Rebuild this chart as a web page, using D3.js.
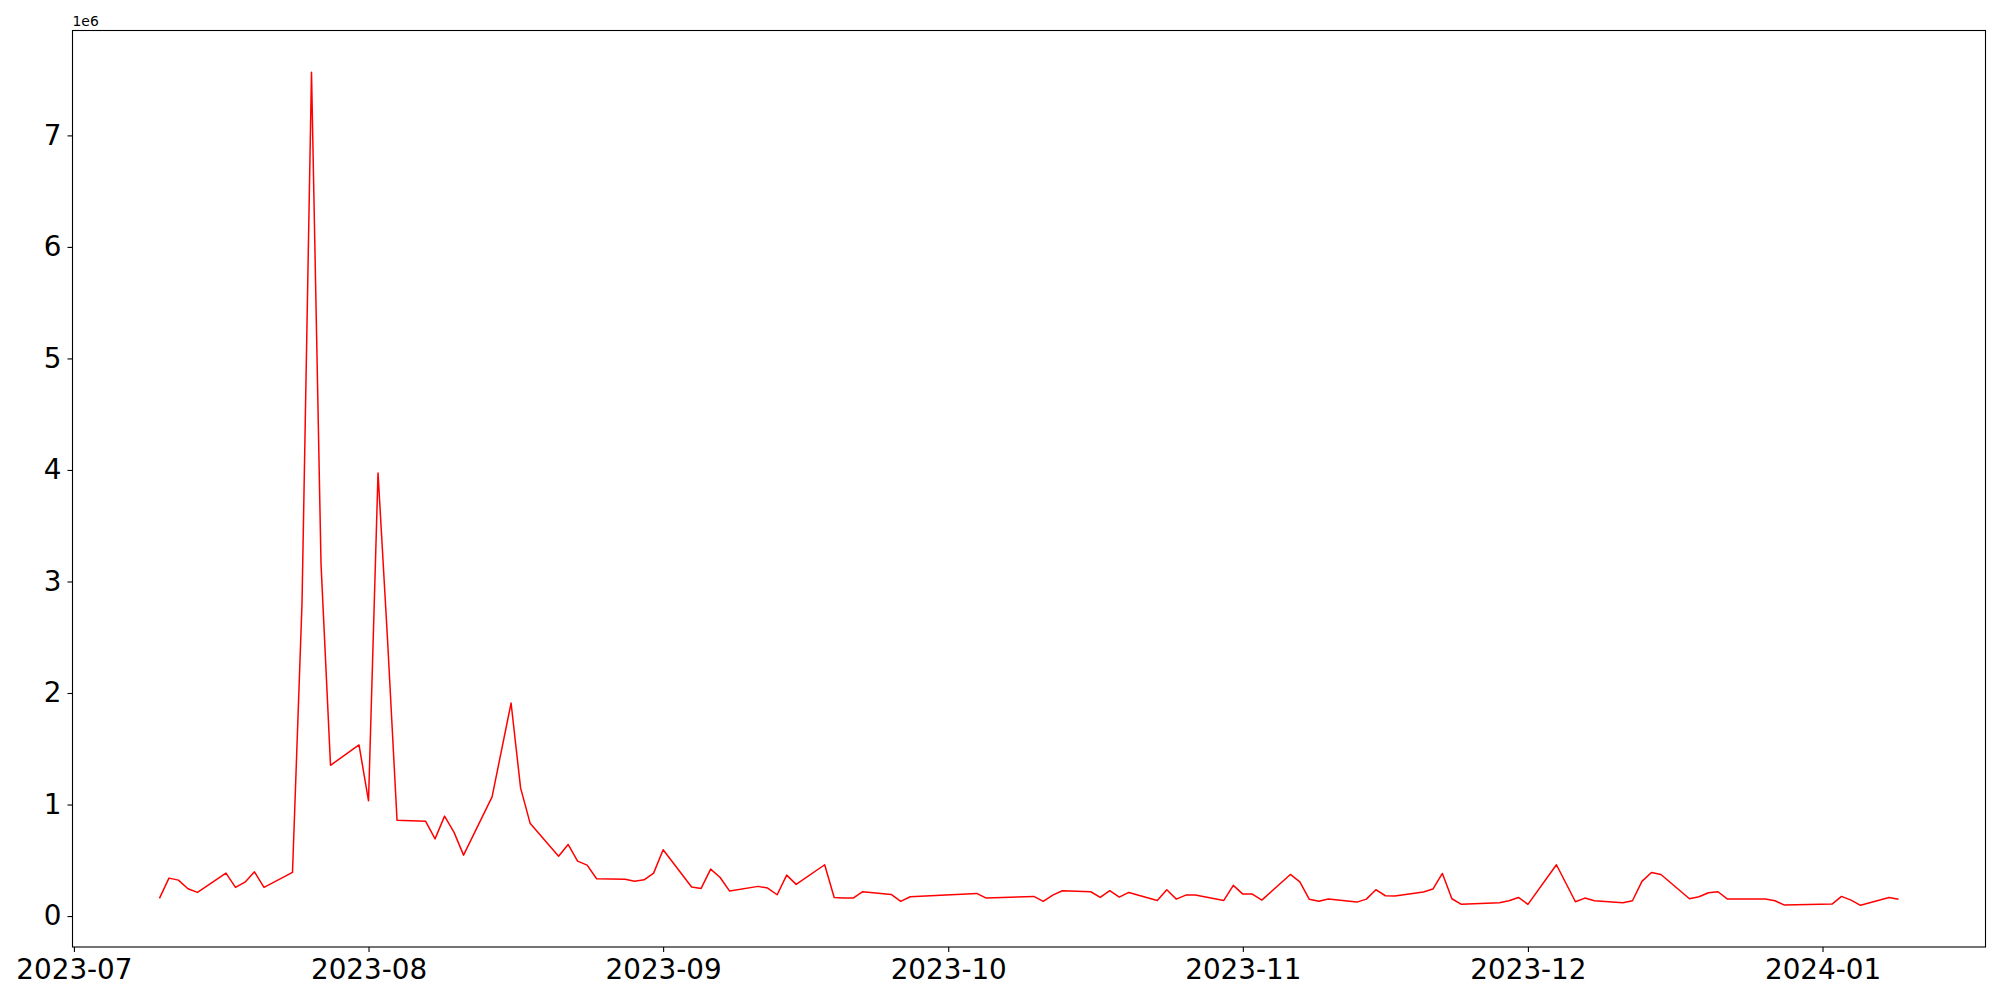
<!DOCTYPE html>
<html>
<head>
<meta charset="utf-8">
<script src="https://cdn.jsdelivr.net/npm/d3@7"></script>
<style>
  html, body { margin: 0; padding: 0; background: #fff; }
  svg { display: block; }
  text { font-family: "DejaVu Sans", sans-serif; fill: #000; }
</style>
</head>
<body>
<svg id="chart" width="2000" height="1000"></svg>
<script>
const dates = [
  "2023-07-10","2023-07-11","2023-07-12","2023-07-13","2023-07-14",
  "2023-07-17","2023-07-18","2023-07-19","2023-07-20","2023-07-21",
  "2023-07-24","2023-07-25","2023-07-26","2023-07-27","2023-07-28",
  "2023-07-31","2023-08-01","2023-08-02","2023-08-03","2023-08-04",
  "2023-08-07","2023-08-08","2023-08-09","2023-08-10","2023-08-11",
  "2023-08-14","2023-08-16","2023-08-17","2023-08-18",
  "2023-08-21","2023-08-22","2023-08-23","2023-08-24","2023-08-25",
  "2023-08-28","2023-08-29","2023-08-30","2023-08-31","2023-09-01",
  "2023-09-04","2023-09-05","2023-09-06","2023-09-07","2023-09-08",
  "2023-09-11","2023-09-12","2023-09-13","2023-09-14","2023-09-15",
  "2023-09-18","2023-09-19","2023-09-20","2023-09-21","2023-09-22",
  "2023-09-25","2023-09-26","2023-09-27",
  "2023-10-04","2023-10-05",
  "2023-10-10","2023-10-11","2023-10-12","2023-10-13",
  "2023-10-16","2023-10-17","2023-10-18","2023-10-19","2023-10-20",
  "2023-10-23","2023-10-24","2023-10-25","2023-10-26","2023-10-27",
  "2023-10-30","2023-10-31","2023-11-01","2023-11-02","2023-11-03",
  "2023-11-06","2023-11-07","2023-11-08","2023-11-09","2023-11-10",
  "2023-11-13","2023-11-14","2023-11-15","2023-11-16","2023-11-17",
  "2023-11-20","2023-11-21","2023-11-22","2023-11-23","2023-11-24",
  "2023-11-28","2023-11-29","2023-11-30","2023-12-01",
  "2023-12-04","2023-12-06","2023-12-07","2023-12-08",
  "2023-12-11","2023-12-12","2023-12-13","2023-12-14","2023-12-15",
  "2023-12-18","2023-12-19","2023-12-20","2023-12-21","2023-12-22",
  "2023-12-26","2023-12-27","2023-12-28",
  "2024-01-02","2024-01-03","2024-01-04","2024-01-05",
  "2024-01-08","2024-01-09"
];

const volumes = [
  158000, 340000, 322000, 245000, 212000,
  385000, 257000, 304000, 397000, 257000,
  391000, 2800000, 7567000, 3160000, 1352000,
  1534000, 1033000, 3973000, 2480000, 860000,
  851000, 692000, 896000, 750000, 546000,
  1068000, 1910000, 1149000, 833000,
  537000, 642000, 493000, 457000, 334000,
  329000, 313000, 325000, 385000, 594000,
  260000, 248000, 421000, 346000, 224000,
  266000, 251000, 191000, 367000, 284000,
  460000, 167000, 161000, 161000, 218000,
  194000, 132000, 173000,
  203000, 161000,
  176000, 132000, 188000, 227000,
  218000, 167000, 227000, 170000, 212000,
  140000, 236000, 152000, 188000, 188000,
  140000, 275000, 197000, 197000, 143000,
  373000, 307000, 150000, 132000, 152000,
  125000, 152000, 236000, 182000, 179000,
  215000, 242000, 382000, 155000, 105000,
  120000, 137000, 167000, 105000,
  460000, 128000, 161000, 137000,
  119000, 137000, 311000, 391000, 373000,
  155000, 173000, 209000, 218000, 152000,
  152000, 137000, 98000,
  107000, 176000, 143000, 96000,
  167000, 150000
];

const yTicks = [0, 1, 2, 3, 4, 5, 6, 7];
const yTickLabels = ["0", "1", "2", "3", "4", "5", "6", "7"];
const xTickLabels = ["2023-07", "2023-08", "2023-09", "2023-10", "2023-11", "2023-12", "2024-01"];
const offsetLabel = "1e6";

const parse = d3.timeParse("%Y-%m-%d");
const data = dates.map((d, i) => ({ date: parse(d), value: volumes[i] }));

const plotLeft = 72.5, plotRight = 1985.5, plotTop = 30.5, plotBottom = 947;
const svg = d3.select("#chart");

// matplotlib-like 5% margins
const xExt = d3.extent(data, d => d.date);
const xPad = (xExt[1] - xExt[0]) * 0.05;
const x = d3.scaleTime()
  .domain([new Date(+xExt[0] - xPad), new Date(+xExt[1] + xPad)])
  .range([plotLeft, plotRight]);

const yExt = d3.extent(data, d => d.value);
const yPad = (yExt[1] - yExt[0]) * 0.05;
const y = d3.scaleLinear()
  .domain([yExt[0] - yPad, yExt[1] + yPad])
  .range([plotBottom, plotTop]);

// line
const line = d3.line().x(d => x(d.date)).y(d => y(d.value));
svg.append("path")
  .datum(data)
  .attr("fill", "none")
  .attr("stroke", "#ff0000")
  .attr("stroke-width", 1.5)
  .attr("stroke-linejoin", "round")
  .attr("d", line);

// x axis
const xTickDates = xTickLabels.map(s => d3.timeParse("%Y-%m")(s));
const xAxis = d3.axisBottom(x)
  .tickValues(xTickDates)
  .tickFormat((d, i) => xTickLabels[i])
  .tickSizeInner(5)
  .tickSizeOuter(0)
  .tickPadding(7);
const gx = svg.append("g").attr("transform", `translate(0,${plotBottom})`).call(xAxis);
gx.select(".domain").remove();
gx.selectAll(".tick line").attr("stroke", "#000").attr("stroke-width", 1.1);
gx.selectAll(".tick text")
  .attr("font-size", "27.8px")
  .attr("font-family", "DejaVu Sans, sans-serif")
  .attr("fill", "#000");

// y axis
const yAxis = d3.axisLeft(y)
  .tickValues(yTicks.map(v => v * 1e6))
  .tickFormat((d, i) => yTickLabels[i])
  .tickSizeInner(5)
  .tickSizeOuter(0)
  .tickPadding(6);
const gy = svg.append("g").attr("transform", `translate(${plotLeft},0)`).call(yAxis);
gy.select(".domain").remove();
gy.selectAll(".tick line").attr("stroke", "#000").attr("stroke-width", 1.1);
gy.selectAll(".tick text")
  .attr("font-size", "27.8px")
  .attr("font-family", "DejaVu Sans, sans-serif")
  .attr("fill", "#000");

// frame (spines)
svg.append("rect")
  .attr("x", plotLeft).attr("y", plotTop)
  .attr("width", plotRight - plotLeft).attr("height", plotBottom - plotTop)
  .attr("fill", "none")
  .attr("stroke", "#000")
  .attr("stroke-width", 1.1);

// offset text
svg.append("text")
  .attr("x", plotLeft)
  .attr("y", plotTop - 5)
  .attr("font-size", "13.9px")
  .text(offsetLabel);
</script>
</body>
</html>
